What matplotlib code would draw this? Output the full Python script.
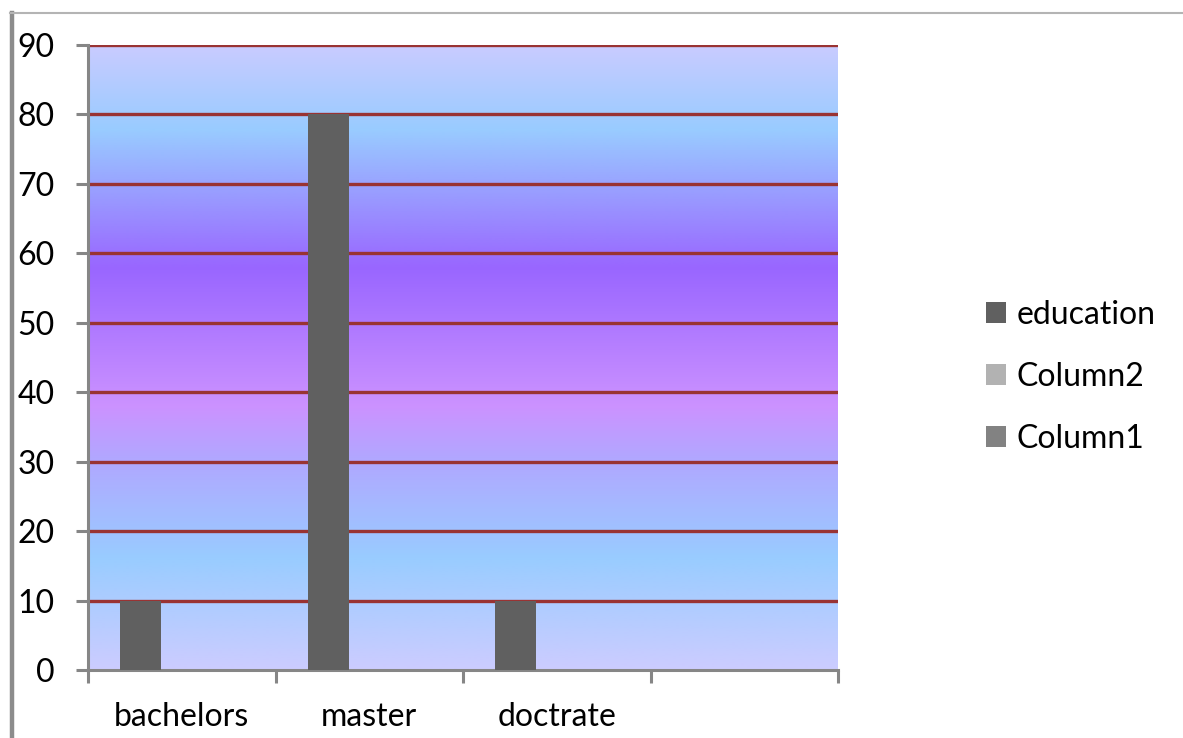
import numpy as np
import matplotlib
matplotlib.use("Agg")
import matplotlib.pyplot as plt
from matplotlib.colors import LinearSegmentedColormap
from matplotlib.patches import Patch
from matplotlib.lines import Line2D

categories = ["bachelors", "master", "doctrate", ""]
series_names = ["education", "Column2", "Column1"]
education = [10, 80, 10, 0]
column2 = [0, 0, 0, 0]
column1 = [0, 0, 0, 0]
yticks = [0, 10, 20, 30, 40, 50, 60, 70, 80, 90]

series_vals = [education, column2, column1]
series_colors = ["#606060", "#b2b2b2", "#828282"]

plt.rcParams['font.family'] = ['Lato', 'DejaVu Sans']
FS = 23

fig = plt.figure(figsize=(11.83, 7.38), dpi=100)
ax = fig.add_axes([88/1183, 68/738, 750/1183, 625/738])

# gradient background (value -> colour)
stops = [(0.0, "#ccccff"), (16/90, "#99ccff"), (30/90, "#b0a8ff"), (38/90, "#cc92ff"),
         (58/90, "#9966ff"), (78/90, "#99ccff"), (1.0, "#c9cbff")]
cmap = LinearSegmentedColormap.from_list("bg", stops)
grad = np.linspace(0, 1, 512).reshape(-1, 1)
ax.imshow(grad, extent=[-0.5, 3.5, 0, 90], origin="lower", aspect="auto",
          cmap=cmap, zorder=0, interpolation="bilinear")

x = np.arange(len(categories))
w = 0.219
for i, (vals, col) in enumerate(zip(series_vals, series_colors)):
    ax.bar(x + (i - 1) * w, vals, width=w, color=col, zorder=3, label=series_names[i])

ax.set_xlim(-0.5, 3.5)
ax.set_ylim(0, 90)
for yv in yticks[1:]:
    ax.axhline(yv, color="#993333", lw=2.4, zorder=2)

ax.set_yticks(yticks)
ax.set_yticklabels([str(v) for v in yticks])
ax.set_xticks(np.arange(-0.5, 3.6, 1.0))
ax.set_xticklabels([])
ax.set_xticks(x, minor=True)
ax.set_xticklabels(categories, minor=True)
ax.tick_params(axis="x", which="minor", length=0, pad=23, labelsize=FS)
ax.tick_params(axis="x", which="major", length=9, width=2.2, color="#868686", direction="out")
ax.tick_params(axis="y", length=9, width=2.2, color="#868686", pad=15, labelsize=FS)

for s in ["top", "right"]:
    ax.spines[s].set_visible(False)
for s in ["left", "bottom"]:
    ax.spines[s].set_color("#868686")
    ax.spines[s].set_linewidth(2.2)

handles = [Patch(facecolor=c, edgecolor="none") for c in series_colors]
fig.legend(handles, series_names, loc="center left", bbox_to_anchor=(957/1183, 1 - 377/738),
           frameon=False, fontsize=FS, handlelength=0.62, handleheight=0.62,
           handletextpad=0.35, labelspacing=1.0)

# outer frame decoration
fig.add_artist(Line2D([12/1183, 12/1183], [0, 1 - 13/738], color="#8c8c8c", lw=3.2,
                      transform=fig.transFigure))
fig.add_artist(Line2D([10/1183, 1], [1 - 13/738, 1 - 13/738], color="#b4b4b4", lw=1.5,
                      transform=fig.transFigure))

fig.savefig("out.png", dpi=100)
